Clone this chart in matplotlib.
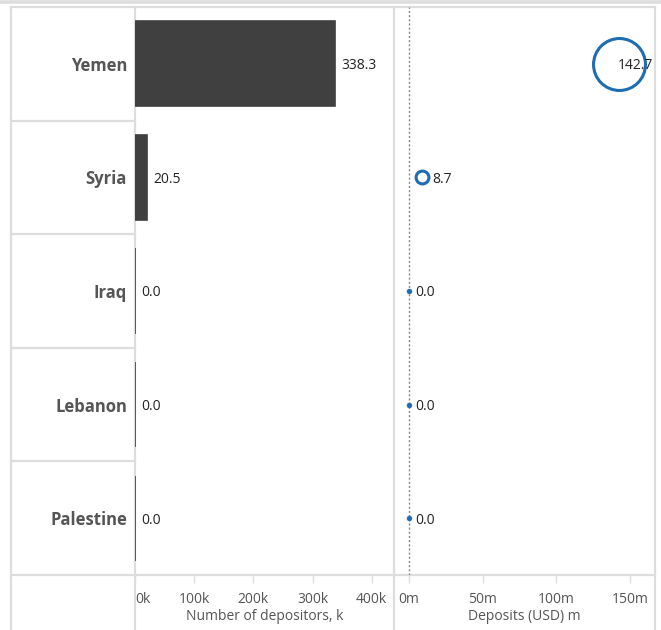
import numpy as np
import matplotlib.pyplot as plt
from matplotlib.lines import Line2D

# data
countries = ["Yemen", "Syria", "Iraq", "Lebanon", "Palestine"]
depositors_k = [338.3, 20.5, 0.0, 0.0, 0.0]
deposits_m = [142.7, 8.7, 0.0, 0.0, 0.0]
bar_ticks = [0, 100, 200, 300, 400]
bar_ticklabels = ["0k", "100k", "200k", "300k", "400k"]
dot_ticks = [0, 50, 100, 150]
dot_ticklabels = ["0m", "50m", "100m", "150m"]

plt.rcParams['font.family'] = ['Open Sans', 'DejaVu Sans']

W, H = 661, 630
fig = plt.figure(figsize=(W / 100, H / 100), dpi=100)

def fx(px):
    return px / W

def fy(py):
    return 1 - py / H

grid_c = "#dddddd"
bar_c = "#404040"
dot_c = "#1f6db1"
lab_c = "#555555"

top, bottom = 7, 575
x_lab, x_bar, x_dot, x_end = 11, 135, 394, 655

ax1 = fig.add_axes([fx(x_bar), fy(bottom), fx(x_dot - x_bar), (bottom - top) / H])
ax2 = fig.add_axes([fx(x_dot), fy(bottom), fx(x_end - x_dot), (bottom - top) / H])

ypos = np.arange(len(countries))

# bars
ax1.barh(ypos, depositors_k, height=0.75, color=bar_c, edgecolor=bar_c, linewidth=1.2,
         zorder=3)
ax1.set_xlim(0, 437.5)
ax1.set_ylim(len(countries) - 0.5, -0.5)
for y, v in zip(ypos, depositors_k):
    ax1.annotate(f"{v:.1f}", (v, y), xytext=(4.5, 0), textcoords="offset points",
                 va="center_baseline", ha="left", fontsize=10, color="#222222")

# dots
ax2.set_xlim(-10.2, 167.0)
ax2.set_ylim(len(countries) - 0.5, -0.5)
ax2.axvline(0, color="#888888", linestyle=(0, (1.5, 1.5)), linewidth=1)
for y, v in zip(ypos, deposits_m):
    if v > 0:
        s = v * 9.8
        ax2.scatter([v], [y], s=s, facecolor="white", edgecolor=dot_c, linewidth=2.2, zorder=3)
    else:
        s = 12
        ax2.scatter([v], [y], s=s, facecolor=dot_c, edgecolor=dot_c, linewidth=0.5, zorder=3)
    r_pt = np.sqrt(s) / 2
    # keep the label inside the panel
    right_px = ax2.transData.transform((v, y))[0] + (r_pt + 3) / 0.72 + 38
    if right_px > ax2.transAxes.transform((1, 0))[0]:
        ax2.annotate(f"{v:.1f}", (1, y), xycoords=("axes fraction", "data"),
                     xytext=(-1, 0), textcoords="offset points",
                     va="center_baseline", ha="right", fontsize=10, color="#222222", zorder=4)
    else:
        ax2.annotate(f"{v:.1f}", (v, y), xytext=(r_pt + 3, 0), textcoords="offset points",
                     va="center_baseline", ha="left", fontsize=10, color="#222222", zorder=4)

for ax in (ax1, ax2):
    ax.set_yticks([])
    for sp in ax.spines.values():
        sp.set_visible(False)
    ax.tick_params(axis="x", length=6, width=1, color=grid_c, labelcolor=lab_c,
                   labelsize=10, pad=6)
    ax.patch.set_alpha(0)

ax1.set_xticks(bar_ticks, bar_ticklabels)
ax1.get_xticklabels()[0].set_horizontalalignment("left")
ax2.set_xticks(dot_ticks, dot_ticklabels)

ax1.set_xlabel("Number of depositors, k", fontsize=10, color=lab_c, labelpad=2)
ax2.set_xlabel("Deposits (USD) m", fontsize=10, color=lab_c, labelpad=2)

# frame and row separators (behind the axes)
lw = 1.6
def hline(y, x0, x1, width=lw):
    fig.add_artist(Line2D([fx(x0), fx(x1)], [fy(y), fy(y)], color=grid_c,
                          linewidth=width, zorder=-1))

def vline(x, y0, y1):
    fig.add_artist(Line2D([fx(x), fx(x)], [fy(y0), fy(y1)], color=grid_c,
                          linewidth=lw, zorder=-1))

hline(1.6, 0, W, width=2.6)
hline(top, x_lab, x_end)
row_h = (bottom - top) / len(countries)
for i in range(1, len(countries) + 1):
    hline(top + i * row_h, x_lab, x_bar)
hline(bottom, x_bar, x_end)
vline(x_lab, top, H)
vline(x_bar, top, H)
vline(x_dot, top, H)
vline(x_end, top, H)

for i, c in enumerate(countries):
    fig.text(fx(127), fy(top + (i + 0.5) * row_h), c, ha="right", va="center_baseline",
             fontsize=12, fontweight="bold", color=lab_c)

fig.savefig("out.png", dpi=100)
